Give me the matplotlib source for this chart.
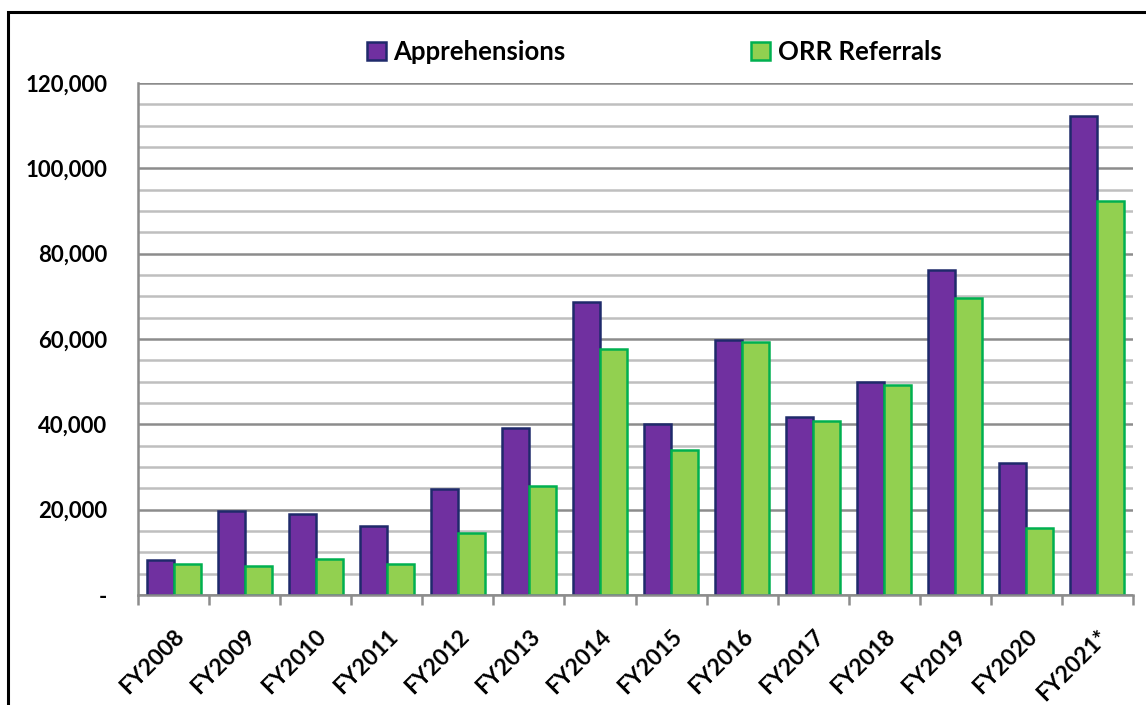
import numpy as np
import matplotlib.pyplot as plt
from matplotlib.patches import Rectangle
from matplotlib.ticker import MultipleLocator, FuncFormatter

years = ["FY2008", "FY2009", "FY2010", "FY2011", "FY2012", "FY2013", "FY2014",
         "FY2015", "FY2016", "FY2017", "FY2018", "FY2019", "FY2020", "FY2021*"]
apprehensions = [8200, 19700, 19000, 16200, 24800, 39100, 68700,
                 40100, 59800, 41700, 49900, 76200, 30900, 112300]
orr_referrals = [7300, 6800, 8400, 7300, 14500, 25500, 57700,
                 34000, 59300, 40800, 49200, 69600, 15600, 92300]

plt.rcParams['font.family'] = ['Lato', 'DejaVu Sans']

fig = plt.figure(figsize=(11.46, 7.05), dpi=100)
W, H = 1146, 705
ax = fig.add_axes([138 / W, 1 - 595 / H, (1133 - 138) / W, (595 - 83) / H])

# outer frame like the pasted Excel chart
fig.patches.append(Rectangle((8 / W, -0.1), 1.2, 1 - 12 / H + 0.1, transform=fig.transFigure,
                             fill=False, edgecolor='black', linewidth=2.2, zorder=0))

x = np.arange(len(years))
w = 0.38
ax.bar(x - w / 2, apprehensions, w, color='#7030A0', edgecolor='#1F2A6B', linewidth=1.8,
       label='Apprehensions', zorder=3)
ax.bar(x + w / 2, orr_referrals, w, color='#92D050', edgecolor='#00B050', linewidth=1.8,
       label='ORR Referrals', zorder=3)

ax.set_xlim(-0.5, len(years) - 0.5)
ax.set_ylim(0, 120000)

ax.yaxis.set_major_locator(MultipleLocator(20000))
ax.yaxis.set_minor_locator(MultipleLocator(5000))
ax.yaxis.set_major_formatter(FuncFormatter(lambda v, p: '-' if v == 0 else f'{int(v):,}'))
ax.grid(axis='y', which='minor', color='#BFBFBF', linewidth=1.8, zorder=0)
ax.grid(axis='y', which='major', color='#8C8C8C', linewidth=1.8, zorder=1)
ax.tick_params(axis='y', which='both', length=0, pad=22, labelsize=16)
for t in ax.get_yticklabels():
    t.set_fontweight('bold')

# category labels between tick marks
ax.set_xticks(x)
ax.set_xticklabels(years, rotation=45, ha='right', rotation_mode='anchor',
                   fontsize=16.5, fontweight='bold')
ax.tick_params(axis='x', which='major', length=0, pad=22)
ax.set_xticks(np.arange(len(years) + 1) - 0.5, minor=True)
ax.tick_params(axis='x', which='minor', length=7, width=1.8, color='#8C8C8C')

for s in ['top', 'right']:
    ax.spines[s].set_visible(False)
for s in ['left', 'bottom']:
    ax.spines[s].set_color('#8C8C8C')
    ax.spines[s].set_linewidth(1.8)
    ax.spines[s].set_zorder(4)

leg = fig.legend(loc='center', bbox_to_anchor=(654 / W, 1 - 52 / H), ncol=2, frameon=False,
                 prop={'weight': 'bold', 'size': 18.5}, columnspacing=7.2,
                 handlelength=0.75, handleheight=0.75, handletextpad=0.3)

fig.savefig('out.png', dpi=100)
